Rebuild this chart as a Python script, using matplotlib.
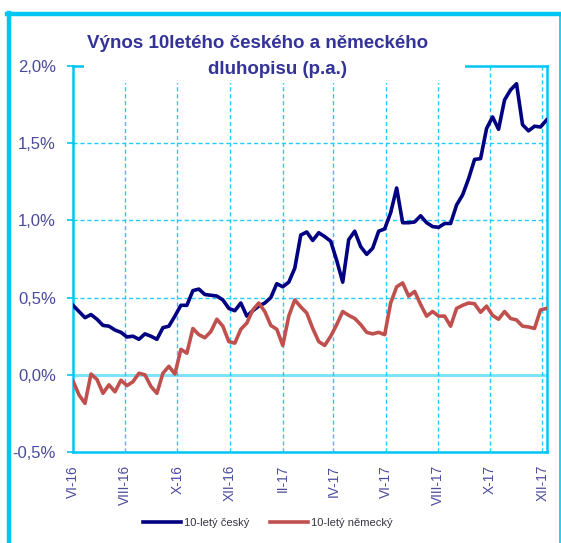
import matplotlib
matplotlib.use('Agg')
import matplotlib.pyplot as plt
from matplotlib.lines import Line2D
from matplotlib.patches import Rectangle
import pandas as pd

# ---- data ----
dates = pd.date_range('2016-06-01', periods=80, freq='7D')
cz_yield = [0.45, 0.41, 0.37, 0.39, 0.36, 0.32, 0.315, 0.29, 0.275, 0.245,
            0.25, 0.23, 0.265, 0.25, 0.23, 0.305, 0.315, 0.38, 0.45, 0.45,
            0.545, 0.555, 0.52, 0.515, 0.51, 0.485, 0.43, 0.415, 0.465, 0.38,
            0.415, 0.445, 0.465, 0.50, 0.59, 0.57, 0.60, 0.69, 0.905, 0.925,
            0.87, 0.92, 0.895, 0.865, 0.74, 0.60, 0.875, 0.93, 0.83, 0.78,
            0.82, 0.93, 0.945, 1.05, 1.21, 0.985, 0.985, 0.99, 1.03, 0.985,
            0.96, 0.955, 0.98, 0.98, 1.10, 1.165, 1.27, 1.395, 1.40, 1.595,
            1.67, 1.59, 1.78, 1.845, 1.885, 1.62, 1.58, 1.61, 1.605, 1.65]
de_yield = [-0.04, -0.13, -0.185, 0.005, -0.03, -0.12, -0.065, -0.11, -0.035, -0.07,
            -0.045, 0.01, 0.0, -0.075, -0.12, 0.01, 0.055, 0.005, 0.165, 0.14,
            0.30, 0.26, 0.24, 0.28, 0.36, 0.315, 0.215, 0.205, 0.295, 0.335,
            0.42, 0.465, 0.41, 0.32, 0.295, 0.19, 0.38, 0.485, 0.44, 0.40,
            0.30, 0.215, 0.19, 0.25, 0.325, 0.41, 0.385, 0.365, 0.325, 0.275,
            0.265, 0.275, 0.26, 0.465, 0.57, 0.595, 0.51, 0.54, 0.455, 0.38,
            0.41, 0.38, 0.38, 0.315, 0.43, 0.45, 0.465, 0.46, 0.405, 0.445,
            0.385, 0.36, 0.41, 0.365, 0.355, 0.315, 0.31, 0.30, 0.42, 0.43]
series_names = ['10-letý český', '10-letý německý']
tick_dates = pd.date_range('2016-06-01', '2017-12-01', freq='2MS')
tick_labels = ['VI-16', 'VIII-16', 'X-16', 'XII-16', 'II-17', 'IV-17',
               'VI-17', 'VIII-17', 'X-17', 'XII-17']
y_ticks = [-0.5, 0.0, 0.5, 1.0, 1.5, 2.0]
y_labels = ['-0,5%', '0,0%', '0,5%', '1,0%', '1,5%', '2,0%']
title_lines = ['Výnos 10letého českého a německého', 'dluhopisu (p.a.)']

# ---- styles ----
NAVY = '#000080'
RED = '#c0504d'
CYAN = '#00c6f2'
GRID = '#22ccff'
ZERO = '#7fe3fb'
LABEL = '#4a4a9c'
TITLE = '#333399'
FONT = ['Liberation Sans', 'DejaVu Sans']

W, H = 561, 543
fig = plt.figure(figsize=(W / 100, H / 100), dpi=100)
fig.patch.set_facecolor('white')


def fx(x):
    return x / W


def fy(y):
    return 1 - y / H


ax = fig.add_axes([fx(73), fy(452), fx(546.5) - fx(73), fy(66) - fy(452)])
ax.set_facecolor('white')

ax.set_xlim(dates[0], dates[-1])
ax.set_ylim(-0.5, 2.0)

# grid
for v in [0.5, 1.0, 1.5]:
    ax.axhline(v, color=GRID, lw=1.0, ls=(0, (3, 2)), zorder=1)
ax.axhline(0.0, color=ZERO, lw=2.2, zorder=1)
for d in tick_dates[1:]:
    ax.axvline(d, color=GRID, lw=1.0, ls=(0, (3, 2)), zorder=1)

ax.plot(dates, cz_yield, color=NAVY, lw=2.6, label=series_names[0], zorder=3,
        solid_joinstyle='round')
ax.plot(dates, de_yield, color=RED, lw=2.6, label=series_names[1], zorder=3,
        solid_joinstyle='round')

for s in ax.spines.values():
    s.set_color(CYAN)
    s.set_linewidth(1.8)

ax.set_yticks(y_ticks)
ax.set_yticklabels(y_labels, family=FONT, fontsize=12, color=LABEL)
ax.tick_params(axis='y', length=4, width=1.2, color=CYAN, pad=8.3, direction='out')

ax.set_xticks(tick_dates)
ax.set_xticklabels(tick_labels, rotation=90, family=FONT, fontsize=9.8,
                   color=LABEL, va='top', ha='center')
ax.tick_params(axis='x', length=0, pad=9.4)

# title box (white fill over the top of the plot)
fig.patches.append(Rectangle((fx(84), fy(83)), fx(465) - fx(84), fy(20) - fy(83),
                             transform=fig.transFigure, facecolor='white',
                             edgecolor='none', zorder=5))
fig.text(fx(258), fy(48), title_lines[0], ha='center', va='baseline',
         family=FONT, fontweight='bold', fontsize=13.5, color=TITLE, zorder=6)
fig.text(fx(278), fy(74), title_lines[1], ha='center', va='baseline',
         family=FONT, fontweight='bold', fontsize=13.5, color=TITLE, zorder=6)

# legend
handles = [Line2D([], [], color=NAVY, lw=2.6), Line2D([], [], color=RED, lw=2.6)]
fig.legend(handles, series_names, loc='center', bbox_to_anchor=(fx(268), fy(523)),
           ncol=2, frameon=False, handlelength=3.4, handletextpad=0.3,
           columnspacing=1.8, prop={'family': FONT, 'size': 8},
           labelcolor='#333344')

# outer frame
fig.add_artist(Line2D([fx(9), fx(9)], [fy(13), 0], transform=fig.transFigure,
                      color=CYAN, lw=3.2))
fig.add_artist(Line2D([fx(7), fx(561)], [fy(13.5), fy(13.5)], transform=fig.transFigure,
                      color=CYAN, lw=3.2))
fig.add_artist(Line2D([fx(560), fx(560)], [fy(13), 0], transform=fig.transFigure,
                      color=CYAN, lw=1.2))

fig.savefig('out.png', dpi=100, facecolor='white')
